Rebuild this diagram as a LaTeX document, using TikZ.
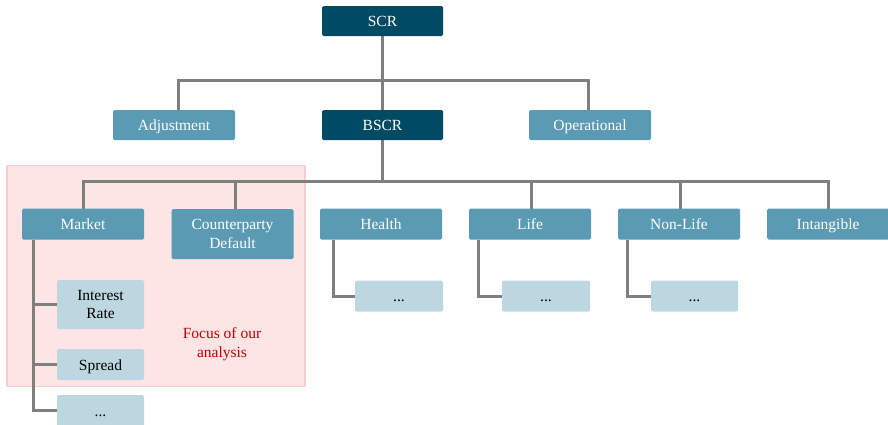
\documentclass[tikz,border=0pt]{standalone}
\usepackage{fontspec}
\setmainfont{Liberation Serif}
\definecolor{darkteal}{HTML}{004B63}
\definecolor{midteal}{HTML}{5A9AB2}
\definecolor{lightteal}{HTML}{BDD7E0}
\definecolor{linegray}{HTML}{7F7F7F}
\definecolor{focusfill}{HTML}{FDE4E5}
\definecolor{focusdraw}{HTML}{F9CCCE}
\definecolor{focustext}{HTML}{C00000}
\begin{document}
\begin{tikzpicture}[x=1pt,y=-1pt,
  box/.style={rectangle,rounded corners=1.5pt,inner sep=0pt,align=center,
    font=\fontsize{15.5}{18.5}\selectfont},
  oneline/.style={text height=14pt,text depth=2.5pt},
  darkbox/.style={box,oneline,fill=darkteal,text=white,minimum width=121pt,minimum height=30pt},
  midbox/.style={box,fill=midteal,text=white,minimum width=122pt,minimum height=31pt},
  lightbox/.style={box,fill=lightteal,text=black,minimum width=87pt,minimum height=31pt},
  conn/.style={draw=linegray,line width=3pt}]
\useasboundingbox (0,0) rectangle (888,424);
\clip (0,0) rectangle (888,424);
% focus area
\node[draw=focusdraw,fill=focusfill,line width=1.5pt,minimum width=298pt,minimum height=221pt,inner sep=0pt] (focus) at (156,276) {};
\node[text=focustext,align=center,font=\fontsize{15.5}{18.5}\selectfont] (focuslabel) at (222,344) {Focus of our\\analysis};
% coordinates of buses
\coordinate (b1) at (382.5,80);
\coordinate (b2) at (382.5,181);
% connectors level 1
\draw[conn] (382.5,36) -- (382.5,110);
\draw[conn] (178,110) |- (b1) -| (588,110);
% connectors level 2
\draw[conn] (382.5,140) -- (b2);
\draw[conn] (83,209) |- (b2) -| (828,209);
\draw[conn] (235,181) -- (235,209);
\draw[conn] (531,181) -- (531,209);
\draw[conn] (680,181) -- (680,209);
% nodes
\node[darkbox] (scr) at (382.5,21) {SCR};
\node[midbox,oneline,minimum height=30pt] (adj) at (174,125) {Adjustment};
\node[darkbox] (bscr) at (382.5,125) {BSCR};
\node[midbox,oneline,minimum height=30pt] (op) at (590,125) {Operational};
\node[midbox,oneline] (market) at (83,224) {Market};
\node[midbox,minimum height=50pt] (cp) at (232.5,234) {Counterparty\\Default};
\node[midbox,oneline] (health) at (381,224) {Health};
\node[midbox,oneline] (life) at (530,224) {Life};
\node[midbox,oneline] (nonlife) at (679,224) {Non-Life};
\node[midbox,oneline] (intang) at (828,224) {Intangible};
\node[lightbox,minimum height=49pt] (ir) at (100.5,304.5) {Interest\\Rate};
\node[lightbox,oneline] (spread) at (100.5,364.5) {Spread};
\node[lightbox,oneline] (mdots) at (100.5,410.5) {...};
\node[lightbox,oneline,minimum width=88pt] (hdots) at (399,296) {...};
\node[lightbox,oneline,minimum width=88pt] (ldots) at (546,296) {...};
\node[lightbox,oneline] (ndots) at (694.5,296) {...};
% sub connectors
\draw[conn] ([xshift=12pt]market.south west) |- (mdots.west);
\draw[conn] ([xshift=12pt]market.south west) |- (ir.west);
\draw[conn] ([xshift=12pt]market.south west) |- (spread.west);
\draw[conn] ([xshift=14pt]health.south west) |- (hdots.west);
\draw[conn] ([xshift=10pt]life.south west) |- (ldots.west);
\draw[conn] ([xshift=10pt]nonlife.south west) |- (ndots.west);
\end{tikzpicture}
\end{document}
